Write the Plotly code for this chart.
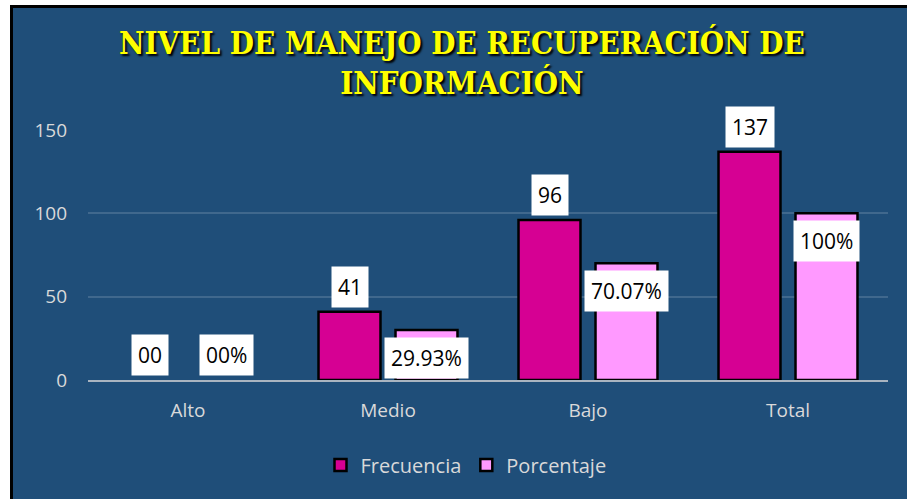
import plotly.graph_objects as go

categories = ["Alto", "Medio", "Bajo", "Total"]
frecuencia = [0, 41, 96, 137]
porcentaje = [0, 29.93, 70.07, 100]
frec_labels = ["00", "41", "96", "137"]
porc_labels = ["00%", "29.93%", "70.07%", "100%"]
y_ticks = [0, 50, 100, 150]

BG = "#1F4E79"
TXT = "#D9D9D9"
FONT = "Open Sans"

# plot area geometry (px)
L, R, T, B = 88, 19, 130, 119
W = 907 - L - R
H = 499 - T - B


def px_x(x):
    return (x - L) / W


def px_y(y):
    return (499 - B - y) / H


# zero-height bars are not drawn (no visible outline at zero)
fig = go.Figure()
fig.add_trace(go.Bar(
    name="Frecuencia", x=categories, y=[v if v > 0 else None for v in frecuencia],
    marker=dict(color="#D60093", line=dict(color="black", width=2.5)),
))
fig.add_trace(go.Bar(
    name="Porcentaje", x=categories, y=[v if v > 0 else None for v in porcentaje],
    marker=dict(color="#FF99FF", line=dict(color="black", width=2.5)),
))

annotations = []
for c, v, t in zip(categories, frecuencia, frec_labels):
    annotations.append(dict(
        x=c, y=v, xref="x", yref="y", text=t, showarrow=False,
        xshift=-38.5, yshift=25, yanchor="middle", xanchor="center",
        bgcolor="white", borderpad=6,
        font=dict(family=FONT, size=21, color="black"),
    ))
for c, v, t in zip(categories, porcentaje, porc_labels):
    annotations.append(dict(
        x=c, y=v, xref="x", yref="y", text=t, showarrow=False,
        xshift=38.5, yshift=(-28 if v > 0 else 25), yanchor="middle", xanchor="center",
        bgcolor="white", borderpad=6,
        font=dict(family=FONT, size=21, color="black"),
    ))

annotations.append(dict(
    x=px_x(462), y=px_y(62), xref="paper", yref="paper",
    text="NIVEL DE MANEJO DE RECUPERACIÓN DE<br>INFORMACIÓN",
    showarrow=False, xanchor="center", yanchor="middle",
    font=dict(family="DejaVu Serif Condensed", size=31, color="#FFFF00",
              weight="bold", shadow="2px 2px 2px #000000"),
))

shapes = [
    dict(type="rect", xref="paper", yref="paper", layer="below",
         x0=px_x(11.5), x1=px_x(925), y0=px_y(6.5), y1=px_y(520),
         fillcolor=BG, line=dict(color="black", width=3)),
]

fig.update_layout(
    width=907, height=499,
    margin=dict(l=L, r=R, t=T, b=B),
    paper_bgcolor="white",
    plot_bgcolor="rgba(0,0,0,0)",
    barmode="group", bargap=0.23, bargroupgap=0.195,
    showlegend=True,
    legend=dict(orientation="h", x=px_x(466), y=px_y(465),
                xanchor="center", yanchor="middle",
                font=dict(family=FONT, size=20, color=TXT),
                bgcolor="rgba(0,0,0,0)", itemwidth=30),
    annotations=annotations,
    shapes=shapes,
    xaxis=dict(showline=True, linecolor="#A9B4C0", linewidth=2,
               showgrid=False, ticks="", ticklabelstandoff=12,
               tickfont=dict(family=FONT, size=19, color=TXT)),
    yaxis=dict(range=[0, 150], tickvals=y_ticks, showgrid=True,
               gridcolor="rgba(255,255,255,0.15)", gridwidth=1.5,
               zeroline=False, ticks="", ticklabelstandoff=20,
               tickfont=dict(family=FONT, size=19, color=TXT)),
)

fig.write_html(
    "out.html",
    config={"displayModeBar": False},
    post_script="document.body.style.margin='0px';document.body.style.overflow='hidden';",
)
